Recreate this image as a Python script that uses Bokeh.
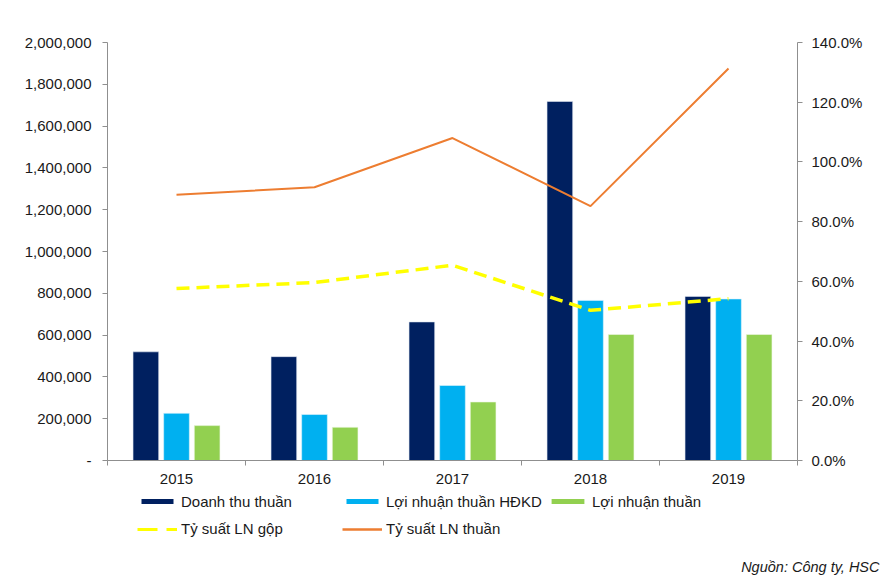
from bokeh.plotting import figure
from bokeh.layouts import column
from bokeh.models import (Range1d, LinearAxis, FixedTicker, NumeralTickFormatter,
                          Legend, LegendItem, Title, ColumnDataSource)
from bokeh.embed import file_html
from bokeh.resources import INLINE

# ---- data ----
years = ["2015", "2016", "2017", "2018", "2019"]
doanh_thu = [520000, 497000, 663000, 1718000, 785000]          # Doanh thu thuần
ln_hdkd = [226000, 220000, 359000, 766000, 773000]             # Lợi nhuận thuần HĐKD
ln_thuan = [167000, 159000, 280000, 603000, 603000]            # Lợi nhuận thuần
ts_gop = [0.576, 0.596, 0.654, 0.503, 0.542]                   # Tỷ suất LN gộp
ts_thuan = [0.890, 0.915, 1.080, 0.852, 1.313]                 # Tỷ suất LN thuần
left_ticks = [0, 200000, 400000, 600000, 800000, 1000000, 1200000,
              1400000, 1600000, 1800000, 2000000]
right_ticks = [0.0, 0.2, 0.4, 0.6, 0.8, 1.0, 1.2, 1.4]
series_names = ["Doanh thu thuần", "Lợi nhuận thuần HĐKD", "Lợi nhuận thuần",
                "Tỷ suất LN gộp", "Tỷ suất LN thuần"]
source_note = "Nguồn: Công ty, HSC"

FONT = "Liberation Sans"
TXT = "#1a1a1a"
AX = "#8f8f8f"
C_DT, C_HD, C_LT, C_G, C_T = "#002060", "#00B0F0", "#92D050", "#FFFF00", "#ED7D31"

n = len(years)
centers = [i + 0.5 for i in range(n)]
bw = 0.186
off = 0.222

src = ColumnDataSource(dict(
    x=centers,
    x1=[c - off for c in centers],
    x3=[c + off for c in centers],
    dt=doanh_thu, hd=ln_hdkd, lt=ln_thuan, g=ts_gop, t=ts_thuan,
))

# ---------------- main chart ----------------
p = figure(width=895, height=490, output_backend="svg", toolbar_location=None,
           x_range=Range1d(0, n), y_range=Range1d(0, 2000000),
           min_border_left=107, min_border_right=98, min_border_top=42,
           min_border_bottom=30, x_axis_location=None, y_axis_location=None)
p.outline_line_color = None
p.xgrid.visible = False
p.ygrid.visible = False
p.background_fill_color = "white"
p.border_fill_color = "white"
p.extra_y_ranges = {"pct": Range1d(0, 1.4)}

def style_axis(ax):
    ax.axis_line_color = AX
    ax.major_tick_line_color = AX
    ax.minor_tick_line_color = AX
    ax.major_tick_in = 0
    ax.major_tick_out = 5
    ax.minor_tick_in = 0
    ax.minor_tick_out = 0
    ax.major_label_text_font = FONT
    ax.major_label_text_font_size = "15px"
    ax.major_label_text_color = TXT

xa = LinearAxis(ticker=FixedTicker(ticks=centers, minor_ticks=list(range(n + 1))))
style_axis(xa)
xa.major_tick_out = 0
xa.minor_tick_out = 5
xa.major_label_overrides = {c: y for c, y in zip(centers, years)}
xa.major_label_standoff = 8
p.add_layout(xa, "below")

ya = LinearAxis(ticker=FixedTicker(ticks=left_ticks),
                formatter=NumeralTickFormatter(format="0,0"))
style_axis(ya)
ya.major_label_overrides = {0: "-"}
ya.major_label_standoff = 11
p.add_layout(ya, "left")

ra = LinearAxis(y_range_name="pct", ticker=FixedTicker(ticks=right_ticks),
                formatter=NumeralTickFormatter(format="0.0%"))
style_axis(ra)
ra.major_label_standoff = 9
p.add_layout(ra, "right")

bar_styles = [("x1", "dt", C_DT, "#dfe6f0"), ("x", "hd", C_HD, "#dff4fc"),
              ("x3", "lt", C_LT, "#eef7e4")]

def draw_series(fig, legend_mode=False):
    rs = []
    for xk, yk, fc, lc in bar_styles:
        rs.append(fig.vbar(x=xk, top=yk, width=bw, source=src, fill_color=fc,
                           line_color=None if legend_mode else lc, line_width=0.6))
    rg = fig.line(x="x", y="g", source=src, y_range_name="pct", line_color=C_G,
                  line_width=3 if legend_mode else 3.5,
                  line_dash="20 9" if legend_mode else "13 7")
    rt = fig.line(x="x", y="t", source=src, y_range_name="pct", line_color=C_T,
                  line_width=2.5 if legend_mode else 2)
    return rs + [rg, rt]

draw_series(p)
# orange line under the yellow dashed line
p.renderers = p.renderers[:3] + [p.renderers[4], p.renderers[3]]

# ---------------- legend strip (frame aligned with chart) ----------------
q = figure(width=895, height=92, output_backend="svg", toolbar_location=None,
           x_range=Range1d(0, n), y_range=Range1d(3000000, 4000000),
           min_border=0, min_border_bottom=26,
           x_axis_location=None, y_axis_location=None)
q.extra_y_ranges = {"pct": Range1d(3, 4)}
q.outline_line_color = None
q.xgrid.visible = False
q.ygrid.visible = False
q.background_fill_color = "white"
q.border_fill_color = "white"

lr = draw_series(q, legend_mode=True)
for r in lr:
    r.visible = False   # only their legend swatches are shown in this strip

def add_leg(label, rend, x, y, gw=40):
    lg = Legend(items=[LegendItem(label=label, renderers=[rend])],
                location=(x, y), orientation="horizontal",
                border_line_color=None, background_fill_alpha=0,
                inactive_fill_alpha=0,
                padding=0, margin=0, spacing=0,
                glyph_width=gw, glyph_height=6, label_height=17,
                label_standoff=4, label_text_font=FONT,
                label_text_font_size="15px", label_text_color=TXT)
    q.add_layout(lg, "center")

Y1, Y2 = 46.5, 19
add_leg(series_names[0], lr[0], 30, Y1)
add_leg(series_names[1], lr[1], 235, Y1)
add_leg(series_names[2], lr[2], 440, Y1, gw=41)
add_leg(series_names[3], lr[3], 30, Y2)
add_leg(series_names[4], lr[4], 235, Y2)

q.add_layout(Title(text=source_note, align="right", offset=-82, standoff=0,
                   text_font=FONT, text_font_style="italic",
                   text_font_size="14.5px", text_color=TXT), "below")

layout = column(p, q, spacing=0)
open("out.html", "w").write(file_html(layout, INLINE))
